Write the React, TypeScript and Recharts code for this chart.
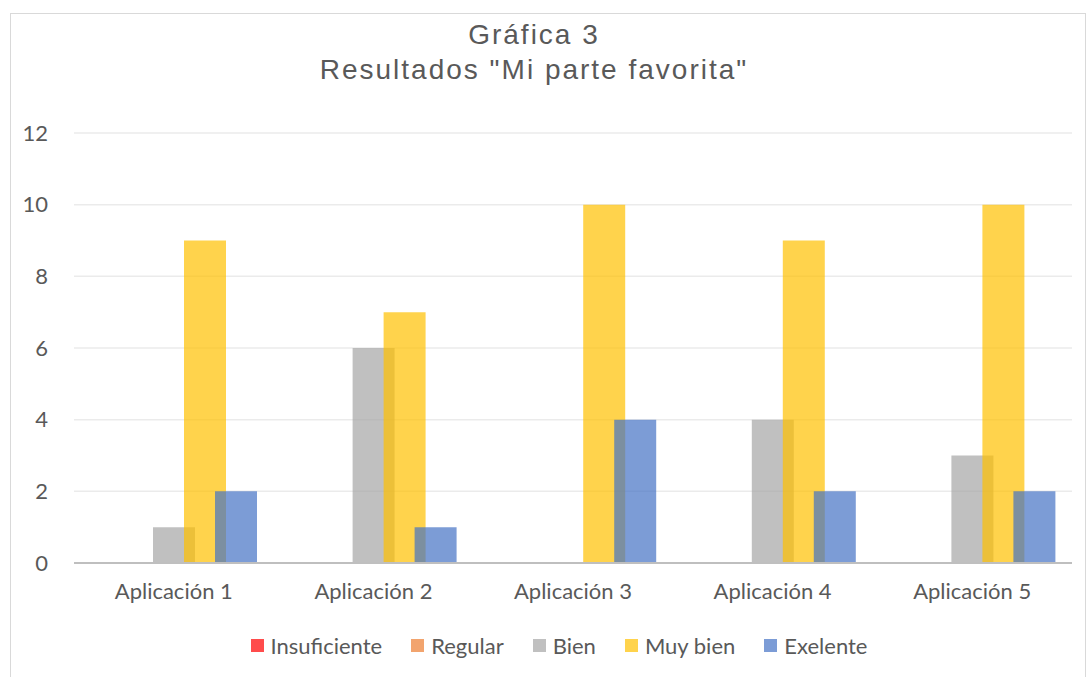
import { BarChart, Bar, XAxis, YAxis, CartesianGrid } from "recharts";

const categories = ["Aplicación 1", "Aplicación 2", "Aplicación 3", "Aplicación 4", "Aplicación 5"];
const insuficiente = [0, 0, 0, 0, 0];
const regular = [0, 0, 0, 0, 0];
const bien = [1, 6, 0, 4, 3];
const muyBien = [9, 7, 10, 9, 10];
const exelente = [2, 1, 4, 2, 2];
const yTicks = [0, 2, 4, 6, 8, 10, 12];

const series = [
    { key: "insuficiente", name: "Insuficiente", color: "#FF0000" },
    { key: "regular", name: "Regular", color: "#ED7D31" },
    { key: "bien", name: "Bien", color: "#A5A5A5" },
    { key: "muyBien", name: "Muy bien", color: "#FFC000" },
    { key: "exelente", name: "Exelente", color: "#4472C4" },
];

const data = categories.map((name, i) => ({
    name,
    insuficiente: insuficiente[i],
    regular: regular[i],
    bien: bien[i],
    muyBien: muyBien[i],
    exelente: exelente[i],
}));

const font = "Lato, 'Open Sans', sans-serif";
const textColor = "#595959";

export default function App() {
    return (
        <div style={{ position: "absolute", left: 10, top: 13, width: 1076, height: 664, borderTop: "1px solid #d9d9d9", borderLeft: "1px solid #d9d9d9", borderRight: "1px solid #d9d9d9", boxSizing: "border-box", background: "#fff" }}>
            {/* title, Arial-ish with wide spacing like the original */}
            <div style={{ position: "absolute", left: 0, top: 3, width: 1046, textAlign: "center", fontFamily: "'Liberation Sans', Arial, sans-serif", fontSize: 28, color: textColor, lineHeight: "35px", letterSpacing: 2 }}>
                <div>Gráfica 3</div>
                <div>Resultados "Mi parte favorita"</div>
            </div>
            <BarChart
                width={1074}
                height={663}
                data={data}
                margin={{ top: 119, right: 13, left: 0, bottom: 0 }}
                barSize={42}
                barGap={-11}
            >
                <CartesianGrid vertical={false} stroke="#ebebeb" strokeWidth={1.5} />
                <XAxis
                    dataKey="name"
                    axisLine={{ stroke: "#bfbfbf", strokeWidth: 2 }}
                    tickLine={false}
                    tick={{ fill: textColor, fontSize: 22, fontFamily: font }}
                    tickMargin={14}
                    height={114}
                />
                <YAxis
                    domain={[0, 12]}
                    ticks={yTicks}
                    axisLine={false}
                    tickLine={false}
                    tick={{ fill: textColor, fontSize: 22, fontFamily: font }}
                    width={63}
                    tickMargin={20}
                />
                {series.map((s) => (
                    <Bar key={s.key} dataKey={s.key} name={s.name} fill={s.color} fillOpacity={0.7} isAnimationActive={false} />
                ))}
            </BarChart>
            <div style={{ position: "absolute", left: 0, top: 618, width: 1096, display: "flex", justifyContent: "center", gap: 29, fontFamily: font, fontSize: 22, color: textColor }}>
                {series.map((s) => (
                    <div key={s.key} style={{ display: "flex", alignItems: "center" }}>
                        <span style={{ display: "inline-block", width: 13, height: 13, background: s.color, opacity: 0.7, marginRight: 7 }} />
                        <span>{s.name}</span>
                    </div>
                ))}
            </div>
        </div>
    );
}
